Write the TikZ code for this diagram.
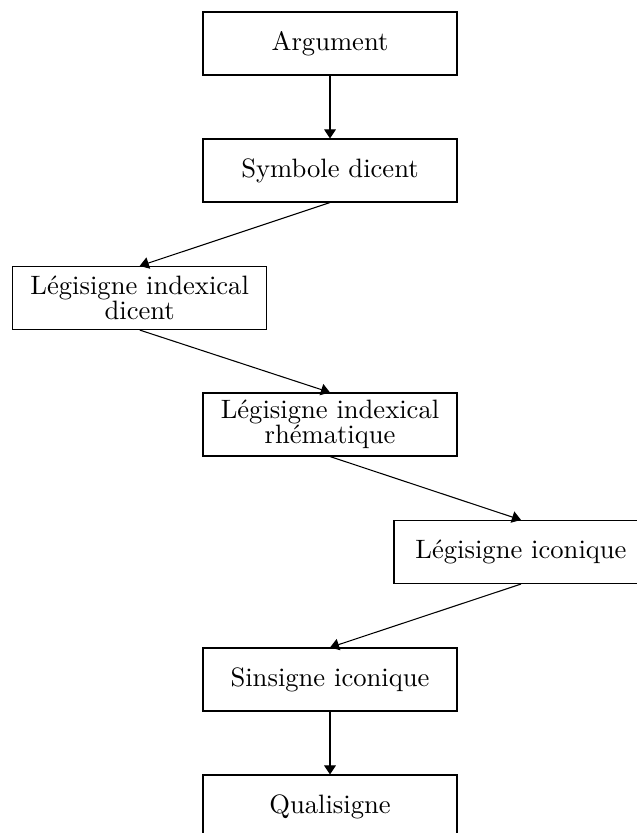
\documentclass[tikz,border=0pt]{standalone}
\usetikzlibrary{arrows.meta}
\begin{document}
\begin{tikzpicture}[x=0.376pt,y=-0.376pt,
  box/.style={draw,line width=0.4pt,minimum width=95.5pt,minimum height=23.7pt,inner sep=2pt,align=center,font=\fontsize{10}{9.2}\selectfont},
  arr/.style={-{Triangle[length=3.4pt,width=4.4pt]},line width=0.4pt}]
\useasboundingbox (0,0) rectangle (636,833);
\node[box] (a) at (330,43.5) {Argument};
\node[box] (b) at (330,170.5) {Symbole dicent};
\node[box] (c) at (139.7,298) {Légisigne indexical\\dicent};
\node[box] (d) at (330,424.5) {Légisigne indexical\\rhématique};
\node[box] (e) at (521,552) {Légisigne iconique};
\node[box] (f) at (330,679.5) {Sinsigne iconique};
\node[box] (g) at (330,806.5) {Qualisigne};
\draw[arr] (a.south) -- (b.north);
\draw[arr] (b.south) -- (c.north);
\draw[arr] (c.south) -- (d.north);
\draw[arr] (d.south) -- (e.north);
\draw[arr] (e.south) -- (f.north);
\draw[arr] (f.south) -- (g.north);
\end{tikzpicture}
\end{document}
